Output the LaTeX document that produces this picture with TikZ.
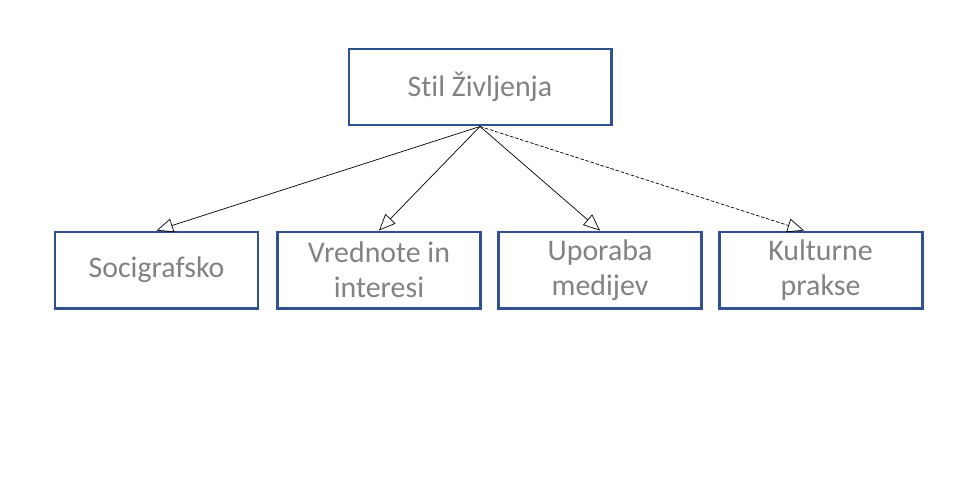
\documentclass[tikz,border=0pt]{standalone}
\usepackage{fontspec}
\setmainfont[Ligatures={NoCommon,NoContextual}]{Carlito}
\usepackage{tikz}
\usetikzlibrary{positioning,arrows.meta,calc}
\usepackage{xcolor}
\definecolor{boxblue}{RGB}{47,82,143}
\definecolor{txtgray}{RGB}{130,130,130}

\begin{document}
\begin{tikzpicture}[>={Triangle[open,length=3.3mm,width=2.8mm]},
  box/.style={draw=boxblue,line width=1.7pt,minimum width=4.06cm,minimum height=1.52cm,inner sep=0pt,align=center,font=\fontsize{17}{20}\selectfont,text=txtgray}]
\useasboundingbox (0,0) rectangle (19.2,9.6);
\node[box,minimum width=5.24cm] (stil) at (9.6,7.86) {Stil Življenja};
\node[box] (soc) at (3.13,4.2) {Socigrafsko};
\node[box] (vred) at (7.58,4.2) {Vrednote in\\interesi};
\node[box] (upor) at (12.0,4.2) {Uporaba\\medijev};
\node[box] (kult) at (16.41,4.2) {Kulturne\\prakse};
\coordinate (kultin) at ($(kult.north west)!0.42!(kult.north east)$);
\draw[->,thin] (stil.south) -- (soc.north);
\draw[->,thin] (stil.south) -- (vred.north);
\draw[->,thin] (stil.south) -- (upor.north);
\draw[->,thin,dash pattern=on 2pt off 1pt] (stil.south) -- (kultin);
\end{tikzpicture}
\end{document}
